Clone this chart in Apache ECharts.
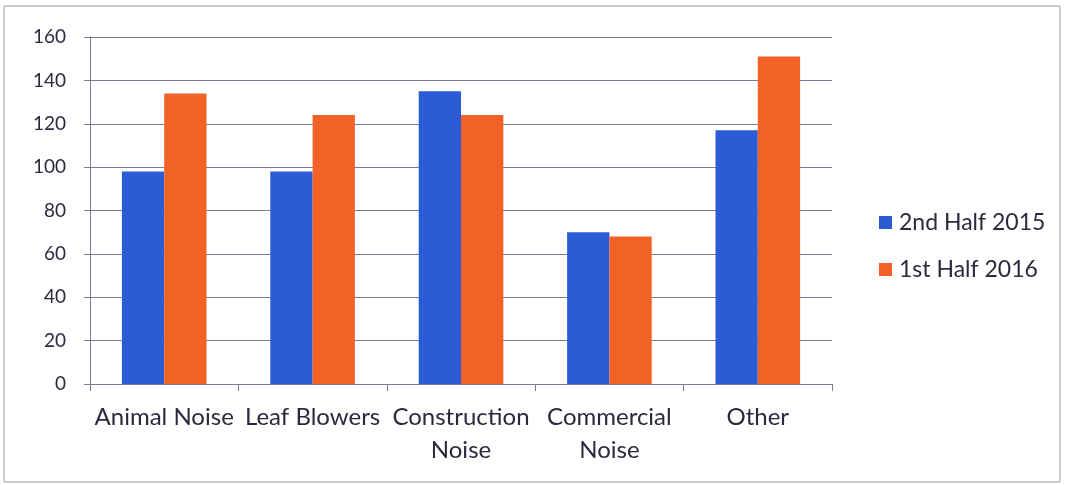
<!DOCTYPE html>
<html><head><meta charset="utf-8">
<script src="https://cdn.jsdelivr.net/npm/echarts@6/dist/echarts.min.js"></script>
<style>html,body{margin:0;padding:0;background:#fff}#c{width:1065px;height:485px}</style>
</head><body><div id="c"></div>
<script>
const categories = ['Animal Noise', 'Leaf Blowers', 'Construction\nNoise', 'Commercial\nNoise', 'Other'];
const seriesNames = ['2nd Half 2015', '1st Half 2016'];
const h2015 = [98, 98, 135, 70, 117];
const h2016 = [134, 124, 124, 68, 151];
const yTicks = [0, 20, 40, 60, 80, 100, 120, 140, 160];

const font = 'Lato, "Open Sans", sans-serif';
const textColor = '#2a2a3e';
const lineColor = '#7a7a95';
const chart = echarts.init(document.getElementById('c'));
chart.setOption({
  animation: false,
  backgroundColor: '#fff',
  grid: { left: 90, right: 233, top: 37, bottom: 101, containLabel: false },
  graphic: [{ type: 'rect', shape: { x: 4, y: 6, width: 1056, height: 476 }, style: { fill: 'none', stroke: '#9a9a9a', lineWidth: 1 } }],
  legend: {
    orient: 'vertical', left: 874, top: 206, itemGap: 24, itemWidth: 13, itemHeight: 13,
    icon: 'rect',
    textStyle: { fontFamily: font, fontSize: 23, color: textColor, padding: [0, 0, 0, 2] },
    data: seriesNames
  },
  xAxis: {
    type: 'category', data: categories,
    axisLine: { lineStyle: { color: lineColor, width: 1 } },
    axisTick: { show: true, length: 7, inside: false, lineStyle: { color: lineColor } },
    axisLabel: { fontFamily: font, fontSize: 24, color: textColor, margin: 17, lineHeight: 33, interval: 0 }
  },
  yAxis: {
    type: 'value', min: yTicks[0], max: yTicks[yTicks.length - 1], interval: 20,
    axisLine: { show: true, lineStyle: { color: lineColor, width: 1 } },
    axisTick: { show: true, length: 6, lineStyle: { color: lineColor } },
    splitLine: { lineStyle: { color: lineColor, width: 1 } },
    axisLabel: { fontFamily: font, fontSize: 19, color: textColor, margin: 24 }
  },
  series: [
    { name: seriesNames[0], type: 'bar', data: h2015, itemStyle: { color: '#2b5cd6' }, barGap: '0%', barCategoryGap: '43%' },
    { name: seriesNames[1], type: 'bar', data: h2016, itemStyle: { color: '#f26125' }, barGap: '0%', barCategoryGap: '43%' }
  ]
});
</script></body></html>
